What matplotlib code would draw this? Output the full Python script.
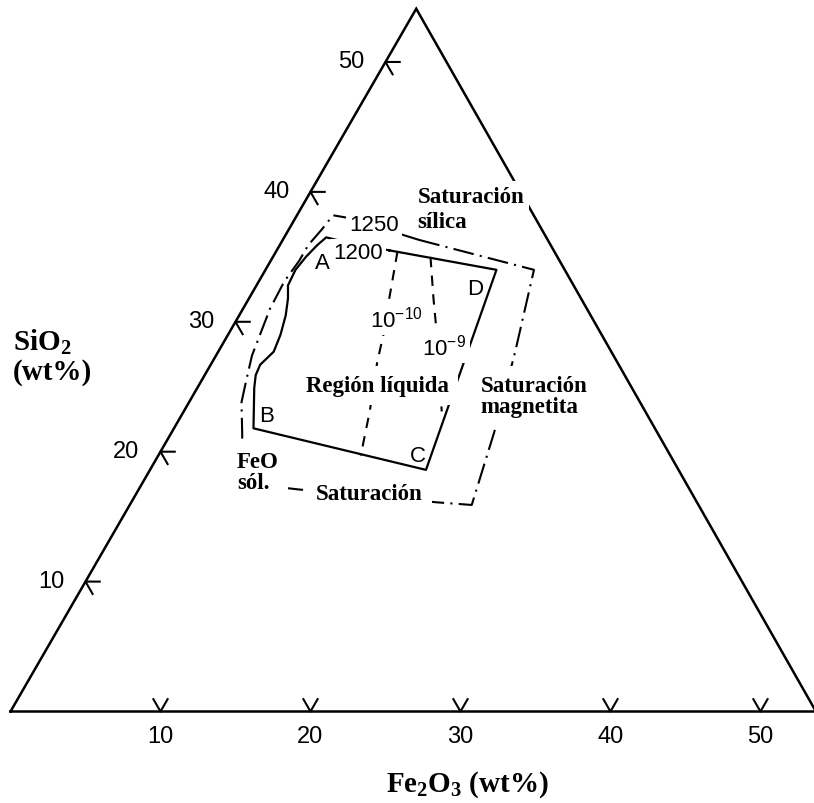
import numpy as np
import matplotlib
matplotlib.use('Agg')
import matplotlib.pyplot as plt

plt.rcParams['mathtext.fontset'] = 'custom'
plt.rcParams['mathtext.rm'] = 'Liberation Sans'
plt.rcParams['mathtext.bf'] = 'Liberation Serif:bold'

# compositions are given as (Fe2O3 wt%, SiO2 wt%), FeO is the balance
tri_fe2o3 = [0, 53.7, 0, 0]
tri_sio2 = [0, 0, 54.1, 0]
tick_values = [10, 20, 30, 40, 50]

# 1200 C isotherm (liquid region A-B-C-D)
iso1200_fe2o3 = [7.5, 15.4, 18.4, 5.3, 3.8, 3.4, 3.3, 3.7, 3.5, 3.1, 2.6, 2.1, 2.0, 2.2, 2.5, 2.8, 3.6, 7.5]
iso1200_sio2 = [35.5, 34.0, 18.6, 21.8, 24.9, 25.9, 26.7, 27.7, 29.0, 30.5, 31.8, 32.8, 34.0, 35.0, 35.9, 36.5, 36.3, 35.5]

# 1250 C isotherm
iso1250_fe2o3 = [9.1, 17.9, 19.8, 21.5, 22.8, 20.4, 10.6, 6.6, 4.8, 3.5, 3.0, 2.4, 2.1, 1.8, 1.7, 1.9, 1.9, 2.2, 2.4, 3.5, 9.1]
iso1250_sio2 = [36.3, 34.0, 27.7, 21.5, 15.9, 16.1, 17.1, 17.6, 21.3, 23.8, 25.4, 27.4, 29.2, 31.0, 33.1, 34.7, 35.9, 37.1, 38.2, 38.0, 36.3]

# oxygen partial pressure isobars
po2_10_fe2o3 = [8.1, 8.9, 9.7, 10.3, 11.0, 12.4, 13.5]
po2_10_sio2 = [35.4, 33.1, 30.8, 29.2, 26.9, 23.1, 19.7]
po2_9_fe2o3 = [10.5, 12.3, 14.1, 17.2]
po2_9_sio2 = [35.0, 31.8, 28.7, 23.1]


def tern(fe2o3, sio2):
    fe2o3 = np.asarray(fe2o3, dtype=float)
    sio2 = np.asarray(sio2, dtype=float)
    return fe2o3 + sio2 / 2, sio2 * np.sqrt(3) / 2


fig = plt.figure(figsize=(8.14, 8.04), dpi=100)
ax = fig.add_axes([0, 0, 1, 1])
ax.set_xlim(-0.7, 53.57)
ax.set_ylim(-6.1, 47.5)
ax.axis('off')

x, y = tern(tri_fe2o3, tri_sio2)
ax.plot(x, y, color='black', lw=1.8, zorder=1, solid_joinstyle='miter')

# ticks: short strokes along the two other grid directions
L = 0.95
for t in tick_values:
    # left edge (SiO2)
    x0, y0 = tern(0, t)
    xa, ya = tern(L, t)
    xb, yb = tern(L, t - L)
    ax.plot([xa, x0, xb], [ya, y0, yb], color='black', lw=1.5, zorder=1)
    ax.annotate(str(t), (x0, y0), xytext=(-21, 1), textcoords='offset pixels',
                ha='right', va='center', fontsize=17, family='Liberation Sans')
    # bottom edge (Fe2O3)
    x0, y0 = tern(t, 0)
    xa, ya = tern(t, L)
    xb, yb = tern(t - L, L)
    ax.plot([xa, x0, xb], [ya, y0, yb], color='black', lw=1.5, zorder=1)
    ax.annotate(str(t), (x0, y0), xytext=(0, -25), textcoords='offset pixels',
                ha='center', va='center', fontsize=17, family='Liberation Sans')

x, y = tern(iso1200_fe2o3, iso1200_sio2)
ax.plot(x, y, color='black', lw=1.6, zorder=2)
x, y = tern(iso1250_fe2o3, iso1250_sio2)
ax.plot(x, y, color='black', lw=1.5, ls=(0, (10, 3, 1, 3)), zorder=2)
x, y = tern(po2_10_fe2o3, po2_10_sio2)
ax.plot(x, y, color='black', lw=1.5, ls=(0, (5, 4)), zorder=2)
x, y = tern(po2_9_fe2o3, po2_9_sio2)
ax.plot(x, y, color='black', lw=1.5, ls=(0, (5, 4)), zorder=2)

white = dict(facecolor='white', edgecolor='none', boxstyle='square,pad=0.15')
sans = dict(family='Liberation Sans', fontsize=16, zorder=3)
ax.text(*tern(5.5, 37.5), '1250', ha='center', va='center', bbox=white, **sans)
ax.text(*tern(5.5, 35.3), '1200', ha='center', va='center', bbox=white, **sans)
ax.text(*tern(3.5, 34.6), 'A', ha='center', va='center', **sans)
ax.text(*tern(5.7, 22.8), 'B', ha='center', va='center', **sans)
ax.text(*tern(17.3, 19.7), 'C', ha='center', va='center', **sans)
ax.text(*tern(14.7, 32.6), 'D', ha='center', va='center', **sans)
ax.text(*tern(9.2, 29.6), '10$^{-10}$', ha='left', va='baseline', bbox=white, **sans)
ax.text(*tern(13.7, 27.5), '10$^{-9}$', ha='left', va='baseline', bbox=white, **sans)

serif = dict(family='Liberation Serif', weight='bold', fontsize=16.5)
box = dict(facecolor='white', edgecolor='none', boxstyle='square,pad=0.4')
ax.text(*tern(7.8, 38.7), 'Saturación\nsílica', ha='left', va='center', linespacing=1.25,
        bbox=dict(facecolor='white', edgecolor='none', boxstyle='square,pad=0.2'),
        zorder=1.5, **serif)
ax.text(*tern(11.9, 25.1), 'Región líquida', ha='center', va='center', bbox=box, zorder=3, **serif)
ax.text(*tern(19.2, 24.3), 'Saturación\nmagnetita', ha='left', va='center', linespacing=1.0,
        bbox=box, zorder=3, **serif)
ax.text(*tern(5.9, 18.4), 'FeO\nsól.', ha='left', va='center', linespacing=1.0,
        bbox=box, zorder=3, **serif)
ax.text(*tern(15.5, 16.8), 'Saturación', ha='center', va='center', bbox=box, zorder=3, **serif)

fig.text(13 / 814, 1 - 357 / 804, '$\\mathbf{SiO_2}$\n(wt%)', ha='left', va='center',
         family='Liberation Serif', weight='bold', fontsize=21, linespacing=1.1)
fig.text(467 / 814, 1 - 785 / 804, '$\\mathbf{Fe_2O_3}$ (wt%)', ha='center', va='center',
         family='Liberation Serif', weight='bold', fontsize=21)

fig.savefig('out.png', dpi=100)
